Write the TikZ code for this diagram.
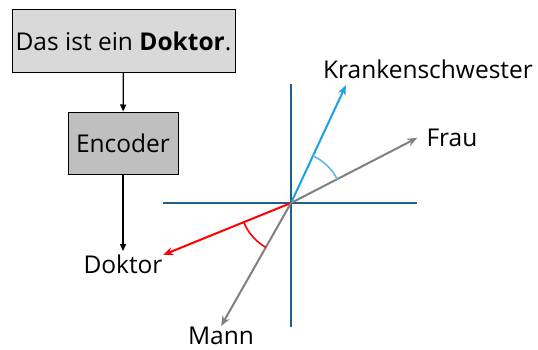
\documentclass[tikz,border=0pt]{standalone}
\usepackage{fontspec}
\setmainfont{Open Sans}
\usepackage{xcolor}
\usetikzlibrary{arrows.meta, calc}

\definecolor{axisblue}{HTML}{1F5F8B}
\definecolor{vecblue}{HTML}{1BA1E2}
\definecolor{arcblue}{HTML}{5BB8E8}
\definecolor{vecgray}{HTML}{808080}

\begin{document}
\begin{tikzpicture}[x=1pt, y=1pt, font=\fontsize{24.5}{29}\selectfont,
    box/.style={draw=black, line width=1pt, inner sep=0pt, align=center},
    vec/.style={line width=2pt, -{Stealth[length=10pt, width=8pt]}}]
  \useasboundingbox (0,0) rectangle (538,349);

  % Input sentence and encoder
  \node[box, fill=black!15, minimum width=223, minimum height=62] (sent) at (123.5,308) {Das ist ein \textbf{Doktor}.};
  \node[box, fill=black!25, minimum width=110, minimum height=62] (enc) at (123,206) {Encoder};
  \node (doktor) at (123,85) {Doktor};

  \draw[line width=1.3pt, -{Triangle[length=7pt, width=6pt]}] (sent) -- (enc);
  \draw[line width=1.3pt, -{Triangle[length=7pt, width=6pt]}] (enc) -- (doktor);

  % Embedding space axes
  \coordinate (O) at (291,146);
  \draw[axisblue, line width=1.5pt] (163,146) -- (417,146);
  \draw[axisblue, line width=1.5pt] (291,22) -- (291,265);

  % Word vectors
  \coordinate (kr) at ($(O)+(65:130)$);
  \coordinate (fr) at ($(O)+(27.3:142)$);
  \coordinate (dk) at ($(O)+(202.1:138)$);
  \coordinate (mn) at ($(O)+(240.4:141.5)$);

  \draw[vec, vecblue] (O) -- (kr);
  \draw[vec, vecgray] (O) -- (fr);
  \draw[vec, red] (O) -- (dk);
  \draw[vec, vecgray] (O) -- (mn);

  % Angles between the vector pairs
  \draw[arcblue, line width=1.6pt] ($(O)+(27.3:52)$) arc[start angle=27.3, end angle=65, radius=52];
  \draw[red, line width=1.6pt] ($(O)+(202.1:51)$) arc[start angle=202.1, end angle=240.4, radius=51];

  % Labels
  \node (krlabel) at (428,280) {Krankenschwester};
  \node (frlabel) at (452,211) {Frau};
  \node[anchor=base, inner sep=0pt] (mnlabel) at (221,5) {Mann};
\end{tikzpicture}
\end{document}
